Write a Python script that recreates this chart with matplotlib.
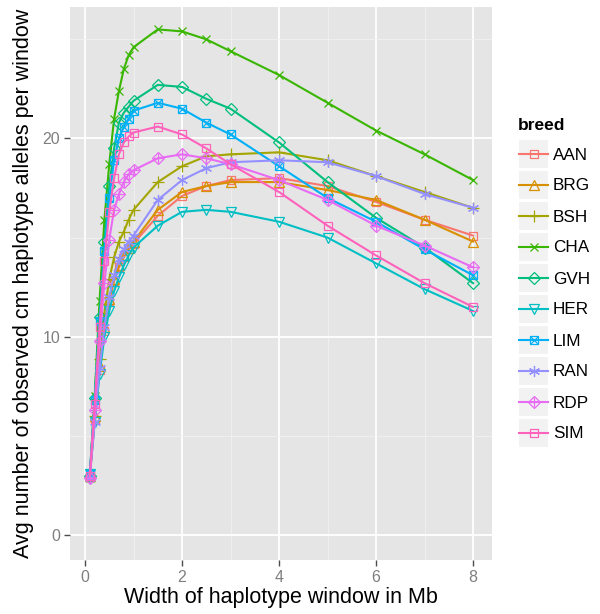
import matplotlib
matplotlib.use("Agg")
import matplotlib.pyplot as plt
from matplotlib.patches import Rectangle

plt.rcParams['font.family'] = ['Liberation Sans', 'DejaVu Sans']

window_mb = [0.1, 0.2, 0.3, 0.4, 0.5, 0.6, 0.7, 0.8, 0.9, 1.0, 1.5, 2, 2.5, 3, 4, 5, 6, 7, 8]

breeds = ["AAN", "BRG", "BSH", "CHA", "GVH", "HER", "LIM", "RAN", "RDP", "SIM"]

AAN = [3.0, 5.8, 8.3, 10.3, 11.8, 12.8, 13.5, 14.0, 14.4, 14.7, 16.1, 17.1, 17.6, 17.9, 18.0, 17.6, 16.8, 15.9, 15.1]
BRG = [3.0, 6.0, 8.5, 10.5, 11.9, 12.9, 13.6, 14.1, 14.5, 14.8, 16.4, 17.3, 17.6, 17.8, 17.8, 17.4, 16.9, 15.9, 14.8]
BSH = [3.0, 6.0, 8.9, 11.2, 12.9, 14.0, 14.8, 15.3, 15.9, 16.4, 17.8, 18.6, 19.1, 19.2, 19.3, 18.9, 18.1, 17.3, 16.5]
CHA = [2.9, 7.0, 11.8, 15.9, 18.7, 21.0, 22.4, 23.5, 24.2, 24.6, 25.5, 25.4, 25.0, 24.4, 23.2, 21.8, 20.4, 19.2, 17.9]
GVH = [3.0, 6.9, 11.0, 14.8, 17.6, 19.5, 20.8, 21.3, 21.6, 21.9, 22.7, 22.6, 22.0, 21.5, 19.8, 17.8, 16.0, 14.5, 12.7]
HER = [3.1, 5.7, 8.1, 10.0, 11.3, 12.3, 13.0, 13.6, 14.1, 14.5, 15.6, 16.3, 16.4, 16.3, 15.8, 15.0, 13.7, 12.4, 11.3]
LIM = [3.1, 6.8, 10.8, 14.3, 17.0, 18.9, 20.0, 20.6, 21.0, 21.4, 21.8, 21.5, 20.8, 20.2, 18.6, 17.0, 15.8, 14.4, 13.1]
RAN = [2.9, 5.7, 8.4, 10.5, 12.0, 13.1, 13.9, 14.4, 14.8, 15.1, 16.9, 17.9, 18.5, 18.8, 18.9, 18.8, 18.1, 17.2, 16.5]
RDP = [2.9, 6.3, 9.8, 12.7, 14.9, 16.4, 17.2, 17.8, 18.2, 18.4, 19.0, 19.2, 19.0, 18.7, 17.9, 16.9, 15.6, 14.6, 13.5]
SIM = [3.0, 6.6, 10.5, 13.8, 16.3, 18.0, 19.2, 19.8, 20.1, 20.3, 20.6, 20.2, 19.5, 18.7, 17.3, 15.6, 14.1, 12.7, 11.5]

series = [AAN, BRG, BSH, CHA, GVH, HER, LIM, RAN, RDP, SIM]

colors = ["#F8766D", "#D89000", "#A3A500", "#39B600", "#00BF7D",
          "#00BFC4", "#00B0F6", "#9590FF", "#E76BF3", "#FF62BC"]
# (marker, size, overlay marker, overlay size)
markers = [("s", 5.2, None, 0), ("^", 6.5, None, 0), ("+", 8, None, 0), ("x", 6, None, 0),
           ("D", 6.5, None, 0), ("v", 6.5, None, 0), ("s", 5.5, "x", 5.5), ((6, 2, 0), 8, None, 0),
           ("D", 6.5, "+", 6.5), ("s", 5.2, None, 0)]

W, H = 600, 614
fig = plt.figure(figsize=(W / 100, H / 100), dpi=100)
L, R, T, B = 70, 492, 7, 560
ax = fig.add_axes([L / W, 1 - B / H, (R - L) / W, (B - T) / H])
ax.set_facecolor("#E5E5E5")
for s in ax.spines.values():
    s.set_visible(False)

ax.set_xlim(-0.309, 8.39)
ax.set_ylim(-1.26, 26.63)
ax.set_xticks([0, 2, 4, 6, 8])
ax.set_xticks([1, 3, 5, 7], minor=True)
ax.set_yticks([0, 10, 20])
ax.set_yticks([5, 15, 25], minor=True)
ax.grid(which="major", color="white", lw=1.3)
ax.grid(which="minor", color="#F2F2F2", lw=0.6)
ax.set_axisbelow(True)
ax.tick_params(which="major", length=4, width=1, color="#4D4D4D", labelcolor="#7F7F7F",
               labelsize=11.5, pad=3)
ax.tick_params(which="minor", length=0)

for vals, col, (m, ms, m2, ms2) in zip(series, colors, markers):
    ax.plot(window_mb, vals, color=col, lw=1.5, marker=m, ms=ms, mfc="none", mec=col, mew=0.9)
    if m2:
        ax.plot(window_mb, vals, ls="none", color=col, marker=m2, ms=ms2, mec=col, mew=0.9)

ax.set_xlabel("Width of haplotype window in Mb", fontsize=15.5, labelpad=2)
ax.set_ylabel("Avg number of observed cm haplotype alleles per window", fontsize=15.5, labelpad=6)

# legend drawn in pixel coordinates
lg = fig.add_axes([0, 0, 1, 1], facecolor="none")
lg.set_xlim(0, W)
lg.set_ylim(H, 0)
lg.axis("off")
lg.text(518, 125, "breed", fontsize=12.5, fontweight="bold", va="center", ha="left")
for i, (name, col, (m, ms, m2, ms2)) in enumerate(zip(breeds, colors, markers)):
    yc = 154 + i * 31
    lg.add_patch(Rectangle((519, yc - 14), 29, 28, facecolor="#F2F2F2", edgecolor="none"))
    lg.plot([519, 548], [yc, yc], color=col, lw=1.5)
    lg.plot([533.5], [yc], marker=m, ms=ms, mfc="none", mec=col, mew=0.9, color=col)
    if m2:
        lg.plot([533.5], [yc], marker=m2, ms=ms2, mec=col, mew=0.9, color=col)
    lg.text(553, yc + 1, name, fontsize=12.3, va="center", ha="left")

fig.savefig("out.png", dpi=100)
